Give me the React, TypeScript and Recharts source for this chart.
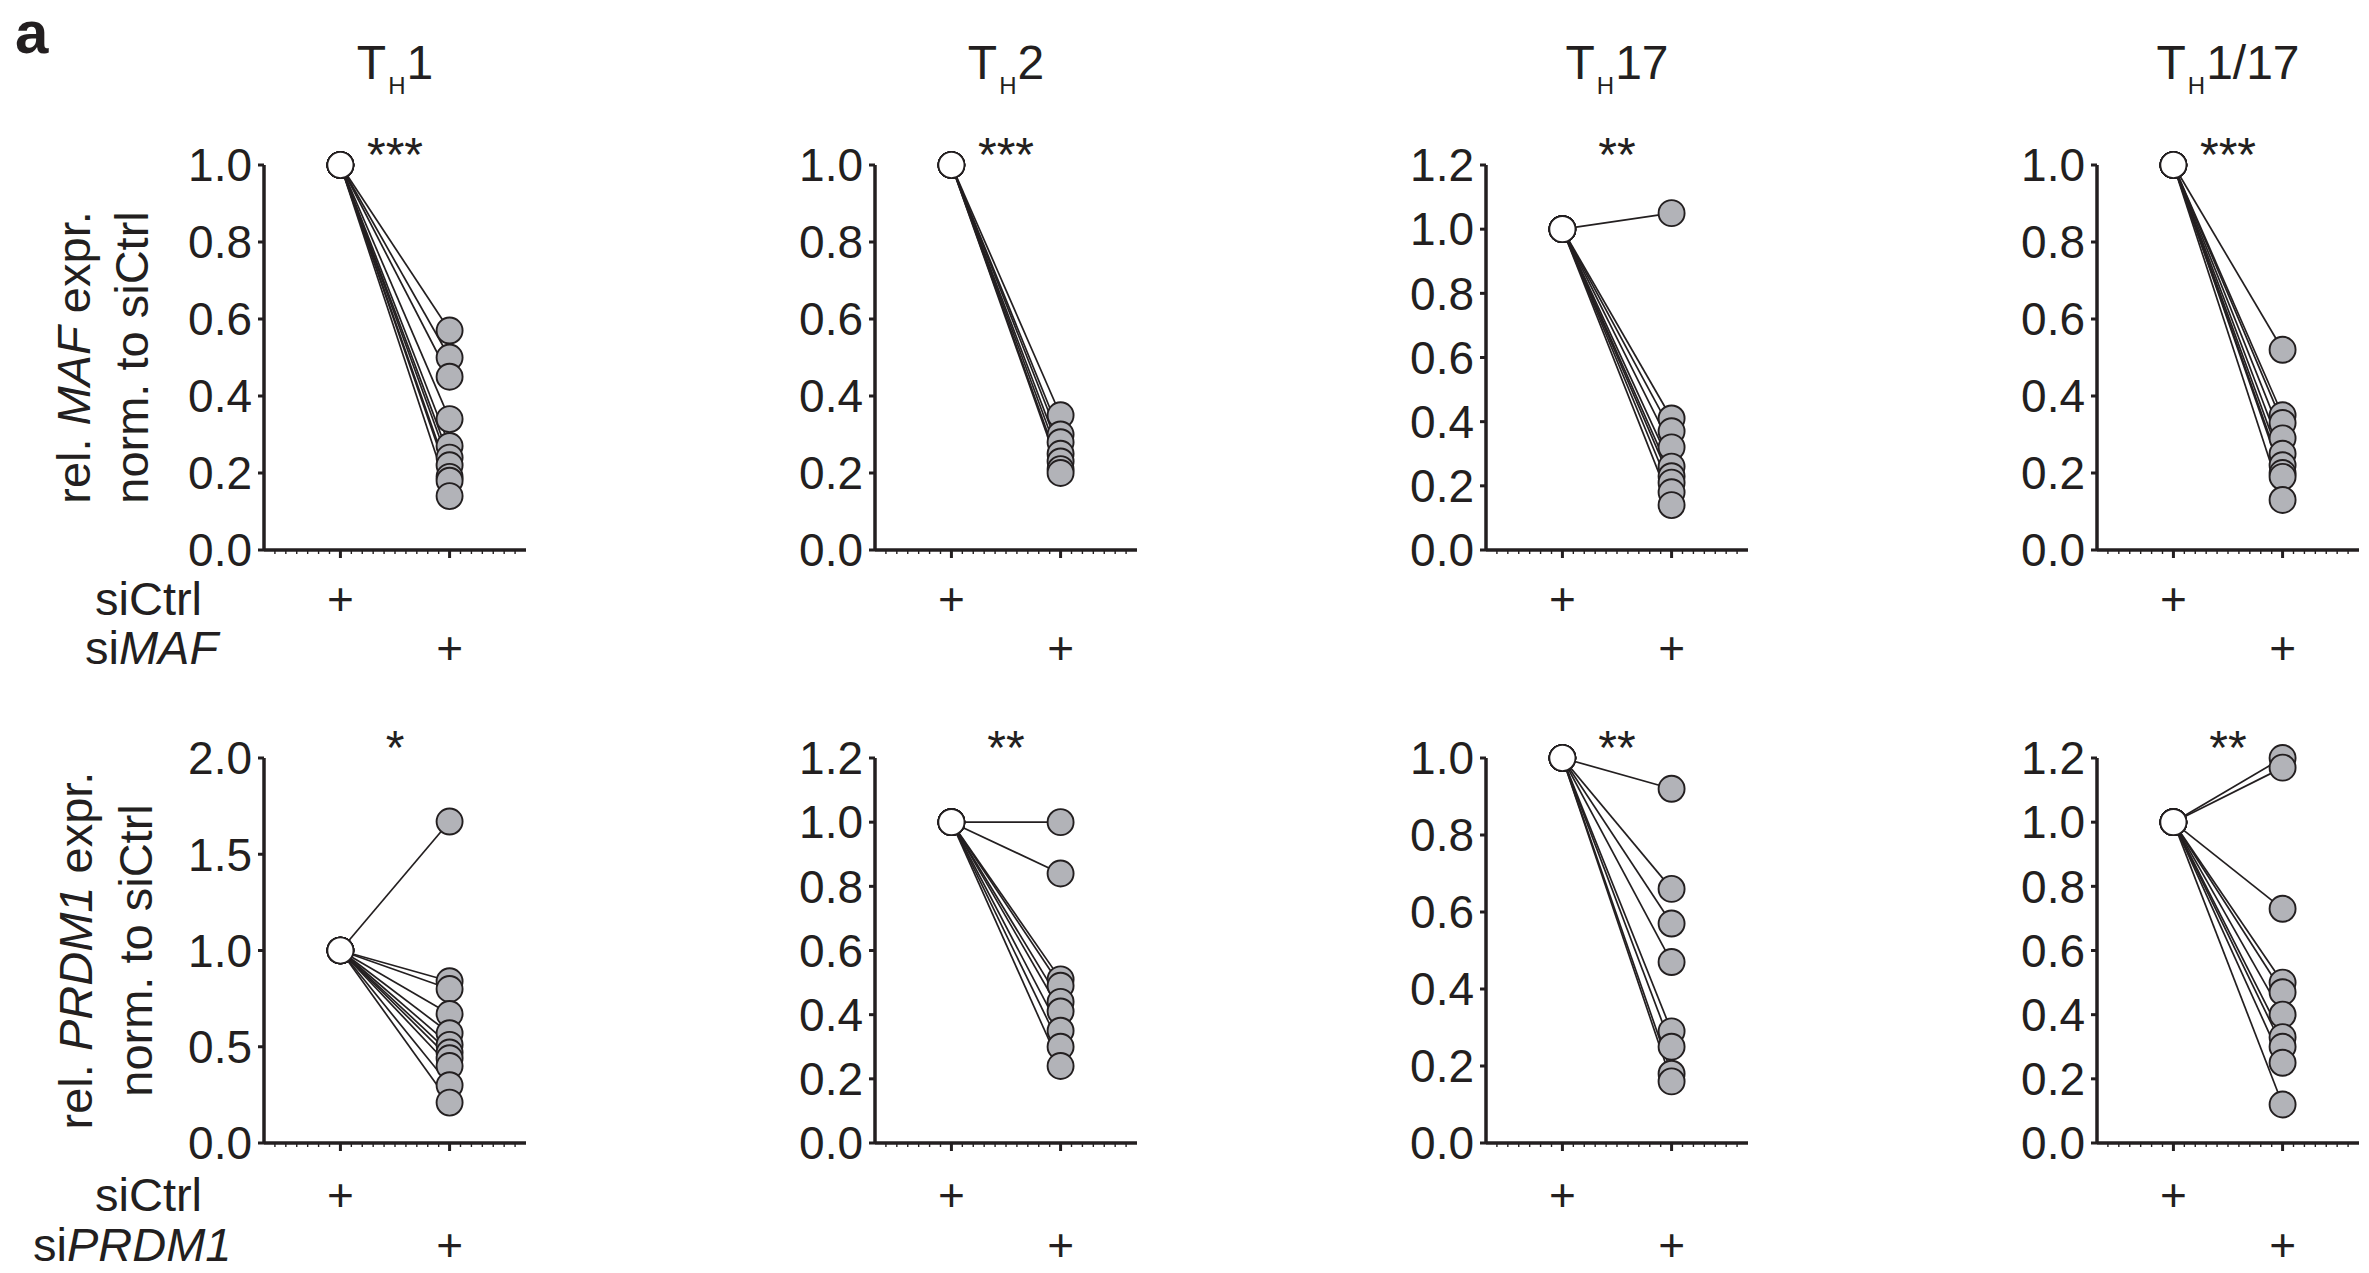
import React from 'react';
import { ComposedChart, Line, XAxis, YAxis } from 'recharts';

// ---------- data ----------
const cellTypes = ['1', '2', '17', '1/17'];
const starsMAF = ['***', '***', '**', '***'];
const starsPRDM1 = ['*', '**', '**', '**'];

const th1MAF = [0.57, 0.5, 0.45, 0.34, 0.27, 0.24, 0.22, 0.19, 0.18, 0.14];
const th2MAF = [0.35, 0.3, 0.28, 0.25, 0.23, 0.21, 0.2];
const th17MAF = [1.05, 0.41, 0.37, 0.32, 0.26, 0.23, 0.21, 0.18, 0.14];
const th117MAF = [0.52, 0.35, 0.33, 0.29, 0.25, 0.22, 0.2, 0.19, 0.13];

const th1PRDM1 = [1.67, 0.84, 0.8, 0.67, 0.57, 0.51, 0.47, 0.44, 0.4, 0.3, 0.21];
const th2PRDM1 = [1.0, 0.84, 0.51, 0.49, 0.44, 0.41, 0.35, 0.3, 0.24];
const th17PRDM1 = [0.92, 0.66, 0.57, 0.47, 0.29, 0.25, 0.18, 0.16];
const th117PRDM1 = [1.2, 1.17, 0.73, 0.5, 0.47, 0.4, 0.33, 0.3, 0.25, 0.12];

const ticks10 = [0, 0.2, 0.4, 0.6, 0.8, 1.0];
const ticks12 = [0, 0.2, 0.4, 0.6, 0.8, 1.0, 1.2];
const ticks20 = [0, 0.5, 1.0, 1.5, 2.0];

const ctrlX = 1; // siCtrl column
const kdX = 2; // siRNA column
const ctrlValue = 1.0;
const xDomain: [number, number] = [0.3, 2.7];
const xTicks = [0.4, 0.5, 0.6, 0.7, 0.8, 0.9, 1.0, 1.1, 1.2, 1.3, 1.4, 1.5, 1.6, 1.7, 1.8, 1.9, 2.0, 2.1, 2.2, 2.3, 2.4, 2.5, 2.6];

// ---------- style ----------
const INK = '#231f20';
const GRAY = '#b2b3b8';
const FONT = '"Liberation Sans", Arial, Helvetica, sans-serif';

const Y_W = 130;
const PLOT_W = 262;
const PLOT_H = 385;
const M_TOP = 66;
const X_H = 130;
const axisXs = [264, 875, 1486, 2097];
const rowPlotTops = [165, 758];

const renderDot = (p: any) => {
  if (p.cx == null || p.cy == null) return <g key={`e-${p.index}`} />;
  if (p.index === 0) {
    return <circle key={`c-${p.index}`} cx={p.cx} cy={p.cy} r={13} fill="#ffffff" stroke={INK} strokeWidth={1.7} />;
  }
  return <circle key={`k-${p.index}`} cx={p.cx} cy={p.cy} r={13} fill={GRAY} stroke={INK} strokeWidth={1.9} />;
};

const makeXTick = (rowOffsets: number[]) => (props: any) => {
  const { x, y, payload } = props;
  const v = payload.value;
  const isCtrl = Math.abs(v - ctrlX) < 1e-6;
  const isKd = Math.abs(v - kdX) < 1e-6;
  if (isCtrl || isKd) {
    const off = isCtrl ? rowOffsets[0] : rowOffsets[1];
    return (
      <g>
        <line x1={x} x2={x} y1={y} y2={y + 8} stroke={INK} strokeWidth={3} />
        <text x={x} y={y + off} textAnchor="middle" fontSize={46} fontFamily={FONT} fill={INK}>+</text>
      </g>
    );
  }
  return <line x1={x} x2={x} y1={y} y2={y + 4} stroke={INK} strokeWidth={1.4} />;
};

function Panel({ axisX, plotTop, values, yMax, yTicks, rowOffsets }: any) {
  const series = values.map((v: number) => [
    { x: ctrlX, y: ctrlValue },
    { x: kdX, y: v },
  ]);
  return (
    <div style={{ position: 'absolute', left: axisX - Y_W, top: plotTop - M_TOP }}>
      <ComposedChart width={Y_W + PLOT_W + 10} height={M_TOP + PLOT_H + X_H} margin={{ top: M_TOP, right: 10, bottom: 0, left: 0 }}>
        <XAxis
          type="number"
          dataKey="x"
          domain={xDomain}
          ticks={xTicks}
          interval={0}
          tickLine={false}
          tickSize={0}
          tickMargin={0}
          height={X_H}
          axisLine={{ stroke: INK, strokeWidth: 3.5 }}
          tick={makeXTick(rowOffsets)}
        />
        <YAxis
          type="number"
          domain={[0, yMax]}
          ticks={yTicks}
          interval={0}
          width={Y_W}
          tickSize={6}
          tickMargin={6}
          tickLine={{ stroke: INK, strokeWidth: 3 }}
          axisLine={{ stroke: INK, strokeWidth: 3.5 }}
          tick={{ fill: INK, fontSize: 46, fontFamily: FONT }}
          tickFormatter={(v: number) => v.toFixed(1)}
        />
        {series.map((d: any, i: number) => (
          <Line key={`d${i}`} data={d} dataKey="y" stroke="none" dot={renderDot} activeDot={false} isAnimationActive={false} />
        ))}
        {series.map((d: any, i: number) => (
          <Line key={`l${i}`} data={d} dataKey="y" stroke={INK} strokeWidth={1.7} dot={false} activeDot={false} isAnimationActive={false} />
        ))}
      </ComposedChart>
    </div>
  );
}

const midX = (axisX: number) => axisX + ((1.5 - xDomain[0]) / (xDomain[1] - xDomain[0])) * PLOT_W;

export default function App() {
  const top = [
    { values: th1MAF, yMax: 1.0, yTicks: ticks10 },
    { values: th2MAF, yMax: 1.0, yTicks: ticks10 },
    { values: th17MAF, yMax: 1.2, yTicks: ticks12 },
    { values: th117MAF, yMax: 1.0, yTicks: ticks10 },
  ];
  const bottom = [
    { values: th1PRDM1, yMax: 2.0, yTicks: ticks20 },
    { values: th2PRDM1, yMax: 1.2, yTicks: ticks12 },
    { values: th17PRDM1, yMax: 1.0, yTicks: ticks10 },
    { values: th117PRDM1, yMax: 1.2, yTicks: ticks12 },
  ];
  const topRows = [65, 114];
  const botRows = [68, 118];
  const txt = { fontFamily: FONT, fill: INK } as any;
  return (
    <div style={{ position: 'absolute', left: 0, top: 0, width: 2369, height: 1273, background: '#fff', overflow: 'hidden' }}>
      {top.map((p, i) => (
        <Panel key={`t${i}`} axisX={axisXs[i]} plotTop={rowPlotTops[0]} values={p.values} yMax={p.yMax} yTicks={p.yTicks} rowOffsets={topRows} />
      ))}
      {bottom.map((p, i) => (
        <Panel key={`b${i}`} axisX={axisXs[i]} plotTop={rowPlotTops[1]} values={p.values} yMax={p.yMax} yTicks={p.yTicks} rowOffsets={botRows} />
      ))}
      <svg width={2369} height={1273} style={{ position: 'absolute', left: 0, top: 0, pointerEvents: 'none' }}>
        <text x={15} y={53} fontSize={60} fontWeight="bold" {...txt}>a</text>
        {cellTypes.map((c, i) => (
          <text key={`ti${i}`} x={midX(axisXs[i])} y={rowPlotTops[0] - 86} textAnchor="middle" fontSize={48} {...txt}>
            T<tspan fontSize={24} dx={2} dy={15}>H</tspan><tspan dx={1} dy={-15}>{c}</tspan>
          </text>
        ))}
        {starsMAF.map((s, i) => (
          <text key={`sm${i}`} x={midX(axisXs[i])} y={rowPlotTops[0] + 6} textAnchor="middle" fontSize={48} {...txt}>{s}</text>
        ))}
        {starsPRDM1.map((s, i) => (
          <text key={`sp${i}`} x={midX(axisXs[i])} y={rowPlotTops[1] + 6} textAnchor="middle" fontSize={48} {...txt}>{s}</text>
        ))}
        <text transform={`translate(90, ${rowPlotTops[0] + PLOT_H / 2}) rotate(-90)`} textAnchor="middle" fontSize={47} {...txt}>
          rel. <tspan fontStyle="italic">MAF</tspan> expr.
        </text>
        <text transform={`translate(148, ${rowPlotTops[0] + PLOT_H / 2}) rotate(-90)`} textAnchor="middle" fontSize={47} {...txt}>
          norm. to siCtrl
        </text>
        <text transform={`translate(92, ${rowPlotTops[1] + PLOT_H / 2}) rotate(-90)`} textAnchor="middle" fontSize={47} {...txt}>
          rel. <tspan fontStyle="italic">PRDM1</tspan> expr.
        </text>
        <text transform={`translate(152, ${rowPlotTops[1] + PLOT_H / 2}) rotate(-90)`} textAnchor="middle" fontSize={47} {...txt}>
          norm. to siCtrl
        </text>
        <text x={95} y={rowPlotTops[0] + PLOT_H + topRows[0]} fontSize={47} {...txt}>siCtrl</text>
        <text x={85} y={rowPlotTops[0] + PLOT_H + topRows[1]} fontSize={47} {...txt}>si<tspan fontStyle="italic">MAF</tspan></text>
        <text x={95} y={rowPlotTops[1] + PLOT_H + botRows[0]} fontSize={47} {...txt}>siCtrl</text>
        <text x={33} y={rowPlotTops[1] + PLOT_H + botRows[1]} fontSize={47} {...txt}>si<tspan fontStyle="italic">PRDM1</tspan></text>
      </svg>
    </div>
  );
}
